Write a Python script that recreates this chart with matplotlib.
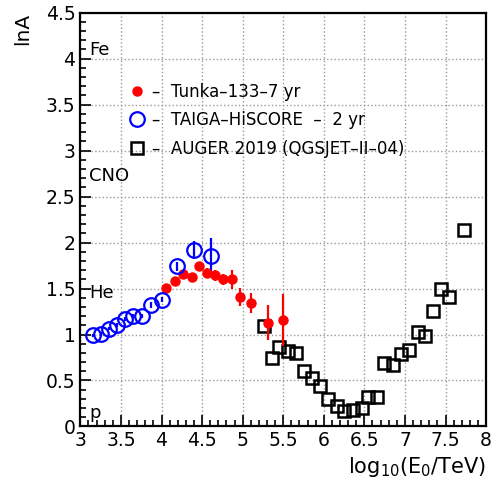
import numpy as np
import matplotlib.pyplot as plt
from matplotlib.ticker import MultipleLocator

plt.rcParams['font.family'] = ['DejaVu Sans']
plt.rcParams['mathtext.fontset'] = 'dejavusans'

# Tunka-133, 7 yr
tunka_x = [4.06, 4.165, 4.265, 4.37, 4.46, 4.56, 4.66, 4.76, 4.865, 4.97, 5.10, 5.31, 5.50]
tunka_y = [1.51, 1.585, 1.66, 1.62, 1.74, 1.67, 1.645, 1.60, 1.60, 1.41, 1.345, 1.13, 1.155]
tunka_err = [0.03, 0.03, 0.03, 0.03, 0.04, 0.05, 0.06, 0.06, 0.10, 0.10, 0.11, 0.19, 0.28]

# TAIGA-HiSCORE, 2 yr
hiscore_x = [3.155, 3.255, 3.35, 3.455, 3.555, 3.65, 3.76, 3.865, 4.0, 4.195, 4.40, 4.605]
hiscore_y = [0.99, 1.005, 1.065, 1.10, 1.17, 1.20, 1.20, 1.32, 1.38, 1.74, 1.92, 1.85]
hiscore_err = [0.02, 0.02, 0.02, 0.02, 0.02, 0.02, 0.02, 0.03, 0.03, 0.05, 0.10, 0.20]

# AUGER 2019 (QGSJET-II-04)
auger_x = [5.26, 5.36, 5.45, 5.555, 5.655, 5.755, 5.85, 5.955, 6.055, 6.16, 6.255, 6.365,
           6.465, 6.55, 6.65, 6.745, 6.85, 6.95, 7.055, 7.155, 7.25, 7.35, 7.44, 7.545, 7.73]
auger_y = [1.09, 0.74, 0.865, 0.82, 0.795, 0.60, 0.53, 0.435, 0.30, 0.225, 0.17, 0.18,
           0.20, 0.32, 0.325, 0.69, 0.67, 0.785, 0.83, 1.025, 0.985, 1.26, 1.50, 1.405, 2.14]

elements = ["Fe", "CNO", "He", "p"]
element_y = [4.09, 2.72, 1.455, 0.15]

fig = plt.figure(figsize=(4.93, 4.83), dpi=100)
ax = fig.add_axes([0.163, 0.117, 0.823, 0.857])

auger_line, = ax.plot(auger_x, auger_y, ls='none', marker='s', ms=8.5, mfc='none',
                      mec='black', mew=1.8)
tunka_eb = ax.errorbar(tunka_x, tunka_y, yerr=tunka_err, fmt='o', color='red', ms=6.5,
                       elinewidth=1.6, capsize=0)
hiscore_eb = ax.errorbar(hiscore_x, hiscore_y, yerr=hiscore_err, fmt='o', color='blue',
                         ms=10.5, mfc='none', mew=1.6, elinewidth=1.6, capsize=0)

for name, y in zip(elements, element_y):
    ax.text(3.11, y, name, fontsize=13, ha='left', va='center')

ax.set_xlim(3, 8)
ax.set_ylim(0, 4.5)
ax.xaxis.set_major_locator(MultipleLocator(0.5))
ax.xaxis.set_minor_locator(MultipleLocator(0.1))
ax.yaxis.set_major_locator(MultipleLocator(0.5))
ax.yaxis.set_minor_locator(MultipleLocator(0.1))
ax.tick_params(which='both', direction='in', top=False, right=False, width=1.2, labelsize=13.5)
ax.tick_params(which='major', length=8)
ax.tick_params(which='minor', length=4)
ax.tick_params(axis='x', pad=3)
ax.set_xticks(np.arange(3, 8.01, 0.5))
ax.set_xticklabels(['3', '3.5', '4', '4.5', '5', '5.5', '6', '6.5', '7', '7.5', '8'])
ax.set_yticks(np.arange(0, 4.51, 0.5))
ax.set_yticklabels(['0', '0.5', '1', '1.5', '2', '2.5', '3', '3.5', '4', '4.5'])
ax.grid(True, which='major', ls=':', color='#999999', lw=1.0)
for s in ax.spines.values():
    s.set_linewidth(1.6)

ax.set_xlabel(r'log$_{\mathregular{10}}$(E$_{\mathregular{0}}$/TeV)', fontsize=15, ha='right', x=1.0)
ax.set_ylabel('lnA', fontsize=14.5, ha='right', y=1.0, labelpad=10)

ax.legend([tunka_eb[0], hiscore_eb[0], auger_line],
          ['–  Tunka–133–7 yr', '–  TAIGA–HiSCORE  –  2 yr', '–  AUGER 2019 (QGSJET–II–04)'],
          loc='upper left', bbox_to_anchor=(0.12, 0.83), frameon=False, fontsize=12,
          handlelength=1.0, handletextpad=0.36, labelspacing=0.62,
          borderaxespad=0, borderpad=0)

fig.savefig('out.png', dpi=100)
